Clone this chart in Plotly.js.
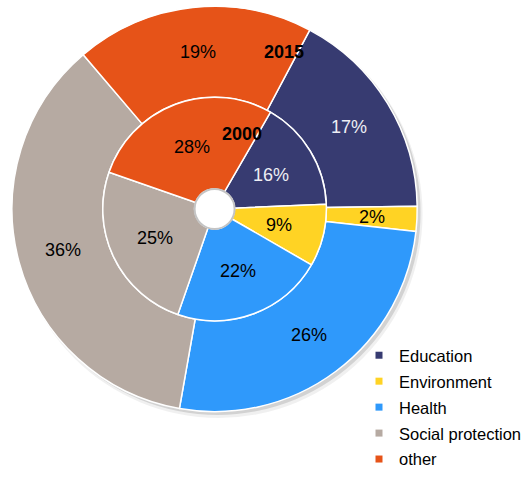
<!DOCTYPE html>
<html>
<head>
<meta charset="utf-8">
<script src="https://cdn.plot.ly/plotly-3.0.1.min.js"></script>
<style>html,body{margin:0;padding:0;background:#fff;}#chart{width:526px;height:477px;}</style>
</head>
<body>
<div id="chart"></div>
<script>
var categories = ['Education', 'Environment', 'Health', 'Social protection', 'other'];
var values2015 = [17, 2, 26, 36, 19];
var values2000 = [16, 9, 22, 25, 28];
var ringLabels = ['2015', '2000'];
var colors = ['#373b71', '#ffd324', '#2f99fb', '#b6aaa2', '#e65318'];
var textColors = ['#eeeef4', '#000000', '#000000', '#000000', '#000000'];

var W = 526, H = 477;
var cx = 215, cy = 209, rOuter = 203, rInner = 112, rHole = 20;
var rotOuter = 28, rotInner = 30;
var FONT = 'Liberation Sans, Arial, sans-serif';

function dom(r) {
  return {
    x: [(cx - r) / W, (cx + r) / W],
    y: [1 - (cy + r) / H, 1 - (cy - r) / H]
  };
}

var common = {
  type: 'pie',
  labels: categories,
  sort: false,
  direction: 'clockwise',
  textinfo: 'none',
  marker: {colors: colors, line: {color: '#ffffff', width: 1.5}},
  showlegend: false,
  hoverinfo: 'label+percent'
};

var outer = Object.assign({}, common, {
  name: ringLabels[0], values: values2015, domain: dom(rOuter),
  hole: rInner / rOuter, rotation: rotOuter
});
var inner = Object.assign({}, common, {
  name: ringLabels[1], values: values2000, domain: dom(rInner),
  hole: rHole / rInner, rotation: rotInner
});

var legendTraces = categories.map(function (c, i) {
  return {
    type: 'scatter', mode: 'markers', x: [null], y: [null], name: c,
    legendgroup: 'g' + i,
    marker: {symbol: 'square', size: 7, color: colors[i]},
    showlegend: true, hoverinfo: 'skip'
  };
});

// percentage labels placed at the middle of each ring slice
function ringLabelAnnotations(values, rot, r0, r1) {
  var total = values.reduce(function (a, b) { return a + b; }, 0);
  var rMid = (r0 + r1) / 2, cum = 0, out = [];
  values.forEach(function (v, i) {
    var ang = (rot + (cum + v / 2) / total * 360) * Math.PI / 180;
    cum += v;
    var px = cx + rMid * Math.sin(ang), py = cy - rMid * Math.cos(ang);
    out.push({
      text: Math.round(v / total * 100) + '%', xref: 'paper', yref: 'paper',
      x: px / W, y: 1 - py / H, xanchor: 'center', yanchor: 'middle', showarrow: false,
      font: {family: FONT, size: 18, color: textColors[i]}
    });
  });
  return out;
}

function circ(ax, ay, r, fill, line, lw, layer) {
  return {
    type: 'circle', xref: 'paper', yref: 'paper',
    xsizemode: 'pixel', ysizemode: 'pixel',
    xanchor: ax / W, yanchor: 1 - ay / H,
    x0: -r, x1: r, y0: -r, y1: r,
    fillcolor: fill, line: {color: line, width: lw}, layer: layer
  };
}

var annotations = ringLabelAnnotations(values2015, rotOuter, rInner, rOuter)
  .concat(ringLabelAnnotations(values2000, rotInner, rHole, rInner))
  .concat([
    {text: '<b>' + ringLabels[0] + '</b>', xref: 'paper', yref: 'paper',
     x: 285 / W, y: 1 - 40 / H, showarrow: false, font: {family: FONT, size: 18, color: '#000'}},
    {text: '<b>' + ringLabels[1] + '</b>', xref: 'paper', yref: 'paper',
     x: 242 / W, y: 1 - 122 / H, showarrow: false, font: {family: FONT, size: 18, color: '#000'}}
  ]);

var layout = {
  width: W, height: H,
  margin: {l: 0, r: 0, t: 0, b: 0},
  paper_bgcolor: '#ffffff', plot_bgcolor: 'rgba(0,0,0,0)',
  font: {family: FONT, size: 16.5, color: '#000'},
  xaxis: {visible: false, range: [0, 1], fixedrange: true},
  yaxis: {visible: false, range: [0, 1], fixedrange: true},
  showlegend: true,
  legend: {
    x: 0.684, xanchor: 'left', y: 0, yanchor: 'bottom',
    font: {family: FONT, size: 16.5, color: '#000'},
    bgcolor: 'rgba(0,0,0,0)', itemclick: false, tracegroupgap: 1.5
  },
  shapes: [
    circ(cx + 4, cy + 5, rOuter + 1, 'rgba(0,0,0,0.06)', 'rgba(0,0,0,0)', 0, 'below'),
    circ(cx + 3, cy + 3, rOuter, 'rgba(0,0,0,0.12)', 'rgba(0,0,0,0)', 0, 'below'),
    circ(cx, cy, rHole, '#ffffff', '#c4c4c4', 2, 'above')
  ],
  annotations: annotations
};

Plotly.newPlot('chart', [outer, inner].concat(legendTraces), layout, {displayModeBar: false, staticPlot: true});
</script>
</body>
</html>
